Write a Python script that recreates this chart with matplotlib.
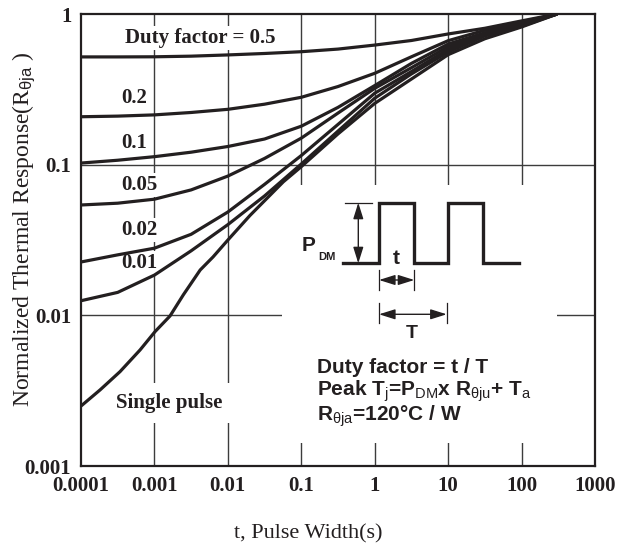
import matplotlib
matplotlib.use("Agg")
import matplotlib.pyplot as plt

plt.rcParams["mathtext.fontset"] = "custom"
plt.rcParams["mathtext.rm"] = "Liberation Sans"
plt.rcParams["mathtext.it"] = "Liberation Sans"
plt.rcParams["mathtext.bf"] = "Liberation Sans:bold"

# ---------- data ----------
t_duty = [1e-4, 3.16e-4, 1e-3, 3.16e-3, 1e-2, 3.16e-2, 0.1, 0.316, 1, 3.16, 10, 31.6, 100, 305]
r_05 = [0.519, 0.519, 0.520, 0.525, 0.535, 0.547, 0.562, 0.585, 0.622, 0.667, 0.737, 0.804, 0.90, 1.0]
r_02 = [0.208, 0.210, 0.214, 0.222, 0.233, 0.252, 0.280, 0.330, 0.404, 0.52, 0.665, 0.78, 0.885, 1.0]
r_01 = [0.1025, 0.107, 0.113, 0.121, 0.132, 0.148, 0.180, 0.24, 0.335, 0.47, 0.632, 0.75, 0.87, 1.0]
r_005 = [0.054, 0.0555, 0.059, 0.068, 0.084, 0.11, 0.15, 0.22, 0.321, 0.44, 0.607, 0.735, 0.858, 1.0]
r_002 = [0.0226, 0.0252, 0.0279, 0.0345, 0.0485, 0.074, 0.115, 0.185, 0.298, 0.415, 0.583, 0.725, 0.845, 1.0]
r_001 = [0.0125, 0.0142, 0.0185, 0.0268, 0.040, 0.062, 0.101, 0.167, 0.276, 0.40, 0.56, 0.715, 0.83, 1.0]

t_single = [1e-4, 1.82e-4, 3.4e-4, 6.37e-4, 1.02e-3, 1.63e-3, 2.48e-3, 4.2e-3, 6.28e-3, 1e-2,
            2e-2, 5.7e-2, 0.1, 0.316, 1, 3.16, 10, 31.6, 100, 305]
r_single = [0.0025, 0.0032, 0.00423, 0.00589, 0.0078, 0.0099, 0.0137, 0.020, 0.0244, 0.0316,
            0.046, 0.077, 0.097, 0.16, 0.255, 0.37, 0.537, 0.685, 0.82, 1.0]

duty_curves = [r_05, r_02, r_01, r_005, r_002, r_001]

x_ticks = [1e-4, 1e-3, 1e-2, 1e-1, 1, 10, 100, 1000]
x_labels = ["0.0001", "0.001", "0.01", "0.1", "1", "10", "100", "1000"]
y_ticks = [1e-3, 1e-2, 1e-1, 1]
y_labels = ["0.001", "0.01", "0.1", "1"]

# curve labels: (text, x pixel, y pixel)
curve_labels = [("Duty factor = 0.5", 125, 38), ("0.2", 121, 98), ("0.1", 121, 143),
                ("0.05", 121, 185), ("0.02", 121, 230), ("0.01", 121, 263)]

W, H = 626, 546
L, R, T, B = 81, 595, 14, 466
ink = "#231f20"
grid_c = "#3c3c3c"

def fx(px):
    return (px - L) / (R - L)

def fy(py):
    return (B - py) / (B - T)

fig = plt.figure(figsize=(W / 100, H / 100), dpi=100)
ax = fig.add_axes([L / W, (H - B) / H, (R - L) / W, (B - T) / H])
ax.set_xscale("log")
ax.set_yscale("log")
ax.set_xlim(1e-4, 1e3)
ax.set_ylim(1e-3, 1)
ax.minorticks_off()

serif_b = dict(family="Liberation Serif", weight="bold", size=15)
ax.set_xticks(x_ticks)
ax.set_xticklabels(x_labels, fontdict=serif_b, color=ink)
ax.set_yticks(y_ticks)
ax.set_yticklabels(y_labels, fontdict=serif_b, color=ink)
ax.tick_params(length=0, pad=7)
for s in ax.spines.values():
    s.set_linewidth(1.6)
    s.set_color(ink)
    s.set_zorder(5)

# grid
for xv in x_ticks[1:-1]:
    ax.axvline(xv, color=grid_c, lw=1.0, zorder=1)
for yv in y_ticks[1:-1]:
    ax.axhline(yv, color=grid_c, lw=1.0, zorder=1)

# white box behind the inset
ax.add_patch(plt.Rectangle((fx(282), fy(443)), fx(557) - fx(282), fy(185) - fy(443),
                           transform=ax.transAxes, facecolor="white", edgecolor="none", zorder=2))

# curves
for r in duty_curves:
    ax.plot(t_duty, r, color=ink, lw=2.3, zorder=3, solid_capstyle="butt", solid_joinstyle="round")
ax.plot(t_single, r_single, color=ink, lw=2.3, zorder=3, solid_capstyle="butt", solid_joinstyle="round")

# curve labels
for txt, px, py in curve_labels:
    ax.text(fx(px), fy(py), txt, transform=ax.transAxes, ha="left", va="center",
            color=ink, zorder=2.5, bbox=dict(boxstyle="square,pad=0.1", fc="white", ec="none"),
            **serif_b)
ax.text(fx(169), fy(403), "Single pulse", transform=ax.transAxes, ha="center", va="center",
        color=ink, zorder=2.5, bbox=dict(boxstyle="square,pad=0.5", fc="white", ec="none"),
        **serif_b)

# ---------- inset: pulse train ----------
base, top = 263.3, 202.7
wave_x = [343.3, 379, 379, 414.3, 414.3, 447.7, 447.7, 482.7, 482.7, 519]
wave_y = [base, base, top, top, base, base, top, top, base, base]
ax.plot([fx(v) for v in wave_x], [fy(v) for v in wave_y], transform=ax.transAxes,
        color=ink, lw=2.4, zorder=4, solid_joinstyle="miter")
ax.plot([fx(345), fx(372)], [fy(top), fy(top)], transform=ax.transAxes, color=ink, lw=0.9, zorder=4)

arw = dict(arrowstyle="<|-|>,head_length=0.7,head_width=0.22", lw=1.0, color=ink,
           shrinkA=0, shrinkB=0, mutation_scale=14)
ax.annotate("", xy=(fx(358.3), fy(top)), xytext=(fx(358.3), fy(base)),
            xycoords="axes fraction", arrowprops=arw, zorder=4)
ax.annotate("", xy=(fx(379), fy(280)), xytext=(fx(414.3), fy(280)),
            xycoords="axes fraction", arrowprops=arw, zorder=4)
ax.annotate("", xy=(fx(379), fy(314.3)), xytext=(fx(446.7), fy(314.3)),
            xycoords="axes fraction", arrowprops=arw, zorder=4)
for px, y0, y1 in [(379, 270, 290), (414.3, 270, 290), (379, 303, 323), (446.7, 303, 323)]:
    ax.plot([fx(px), fx(px)], [fy(y0), fy(y1)], transform=ax.transAxes, color=ink, lw=0.9, zorder=4)

sans_b = dict(family="Liberation Sans", weight="bold", color=ink)
ax.text(fx(308.5), fy(245.5), "P", transform=ax.transAxes, ha="center", va="center",
        size=15, zorder=4, **sans_b)
ax.text(fx(327), fy(257), "DM", transform=ax.transAxes, ha="center", va="center",
        size=8, zorder=4, **sans_b)
ax.text(fx(396.7), fy(259), "t", transform=ax.transAxes, ha="center", va="center",
        size=15, zorder=4, **sans_b)
ax.text(fx(411.7), fy(334), "T", transform=ax.transAxes, ha="center", va="center",
        size=14, zorder=4, **sans_b)

ax.text(fx(316.7), fy(367.3), "Duty factor = t / T", transform=ax.transAxes,
        ha="left", va="center", size=15, zorder=4, **sans_b)
ax.text(fx(316.7), fy(391.7), r"Peak T$_\mathrm{j}$=P$_\mathrm{DM}$x R$_\mathrm{\theta ju}$+ T$_\mathrm{a}$",
        transform=ax.transAxes, ha="left", va="center", size=15, zorder=4, **sans_b)
ax.text(fx(316.7), fy(416.7), r"R$_\mathrm{\theta ja}$=120°C / W", transform=ax.transAxes,
        ha="left", va="center", size=15, zorder=4, **sans_b)

# axis titles
fig.text(24 / W, 1 - 229 / H, r"Normalized Thermal Response(R$_\mathrm{\theta ja}$ )",
         rotation=90, ha="center", va="center", family="Liberation Serif", size=17, color=ink)
fig.text(308 / W, 1 - 534 / H, "t, Pulse Width(s)", ha="center", va="center",
         family="Liberation Serif", size=16, color=ink)

fig.savefig("out.png", dpi=100, facecolor="white")
